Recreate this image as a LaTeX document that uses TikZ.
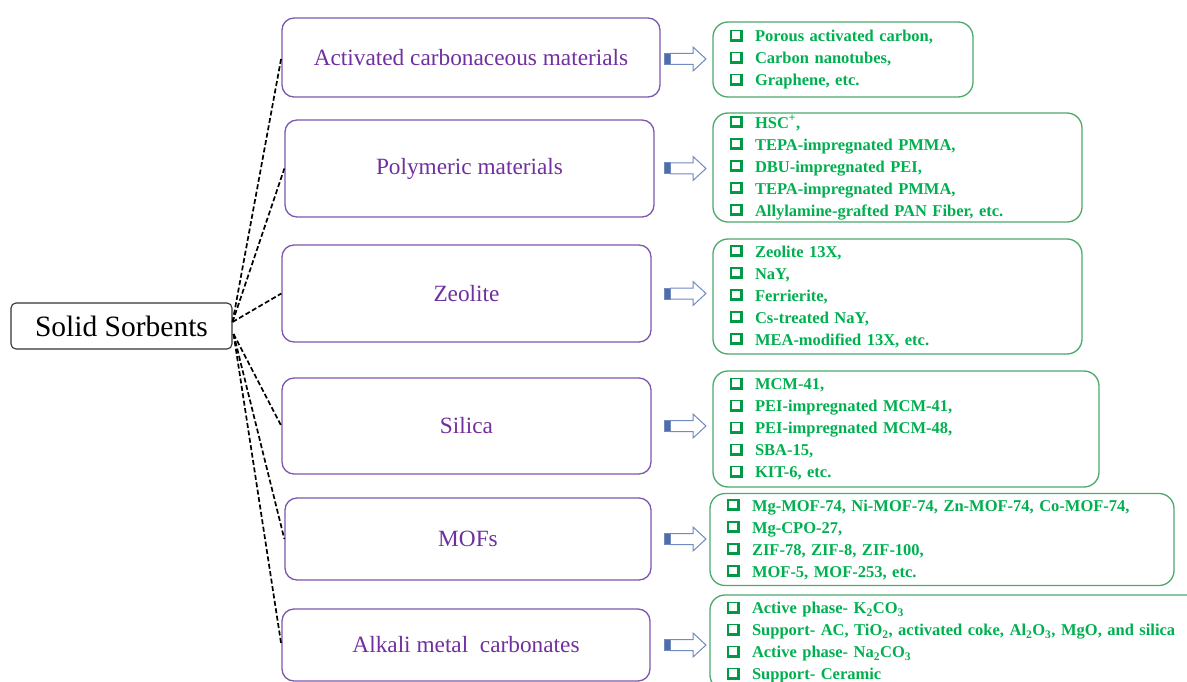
\documentclass[tikz,border=0pt]{standalone}
\usepackage{fontspec}
\setmainfont{Liberation Serif}
\usetikzlibrary{calc}
\definecolor{purp}{HTML}{7030A0}
\definecolor{purpline}{HTML}{7E57AE}
\definecolor{grn}{HTML}{00B050}
\definecolor{grnbox}{HTML}{009A45}
\definecolor{grnline}{HTML}{4CAA6C}
\definecolor{arrline}{HTML}{6F8BBF}
\definecolor{arrbar}{HTML}{4F6DA8}
\newcommand{\chk}{\textcolor{grnbox}{\vrule width 1.6pt height 12pt depth 0pt\vbox{\hrule height 1.6pt width 8.5pt\vskip 7.6pt\hrule height 2.8pt}\vrule width 2.8pt height 12pt depth 0pt}}
\newcommand{\itm}[1]{\makebox[22pt][l]{\hspace{-3pt}\chk}#1\par}
\tikzset{
  rootbox/.style={draw=black!80, line width=1.1pt, rounded corners=5pt, minimum width=221pt, minimum height=46pt, inner sep=0pt, font=\fontsize{29.5}{30}\selectfont},
  catbox/.style={draw=purpline, line width=1.3pt, rounded corners=12pt, inner sep=0pt, text=purp, font=\fontsize{23.3}{25}\selectfont},
  listbox/.style={draw=grnline, line width=1.3pt, rounded corners=15pt, inner xsep=20pt, inner ysep=0pt, text=grn, align=left, font=\bfseries\fontsize{16.5}{22}\selectfont},
  link/.style={draw=black, dashed, dash pattern=on 5pt off 2.5pt, line width=1.7pt},
  pics/blockarrow/.style={code={
    \fill[arrbar] (-21,-5.5) rectangle (-15,5.5);
    \draw[arrline, line width=1pt] (-21,-5.5) rectangle (-15,5.5);
    \draw[arrline, line width=1pt, line join=miter] (-15,-5.5) -- (8,-5.5) -- (8,-12) -- (21,0) -- (8,12) -- (8,5.5) -- (-15,5.5);
  }}
}
\begin{document}
\begin{tikzpicture}[x=1pt,y=-1pt]
\clip (0,0) rectangle (1187,682);
\fill[white] (0,0) rectangle (1187,682);

\node[rootbox] (sol) at (121.5,326) {Solid Sorbents};

\node[catbox, minimum width=378pt, minimum height=79pt] (c1) at (471,57.5) {Activated carbonaceous materials};
\node[catbox, minimum width=369pt, minimum height=97pt] (c2) at (469.5,168.5) {Polymeric materials};
\node[catbox, minimum width=369pt, minimum height=97pt] (c3) at (466.5,293.5) {Zeolite};
\node[catbox, minimum width=369pt, minimum height=96pt] (c4) at (466.5,426) {Silica};
\node[catbox, minimum width=366pt, minimum height=82pt] (c5) at (468,539) {MOFs};
\node[catbox, minimum width=368pt, minimum height=72pt] (c6) at (466,645) {Alkali metal\ \ carbonates};

\node[listbox, text width=220pt, minimum height=75pt] (g1) at (843,59.5) {%
\itm{Porous activated carbon,}\itm{Carbon nanotubes,}\itm{Graphene, etc.}};
\node[listbox, text width=329pt, minimum height=109pt] (g2) at (897.5,167.5) {%
\itm{HSC\textsuperscript{+},}\itm{TEPA-impregnated PMMA,}\itm{DBU-impregnated PEI,}\itm{TEPA-impregnated PMMA,}\itm{Allylamine-grafted PAN Fiber, etc.}};
\node[listbox, text width=329pt, minimum height=115pt] (g3) at (897.5,296.5) {%
\itm{Zeolite 13X,}\itm{NaY,}\itm{Ferrierite,}\itm{Cs-treated NaY,}\itm{MEA-modified 13X, etc.}};
\node[listbox, text width=346pt, minimum height=116pt] (g4) at (906,429) {%
\itm{MCM-41,}\itm{PEI-impregnated MCM-41,}\itm{PEI-impregnated MCM-48,}\itm{SBA-15,}\itm{KIT-6, etc.}};
\node[listbox, text width=424pt, minimum height=92pt] (g5) at (942,539.5) {%
\itm{Mg-MOF-74, Ni-MOF-74, Zn-MOF-74, Co-MOF-74,}\itm{Mg-CPO-27,}\itm{ZIF-78, ZIF-8, ZIF-100,}\itm{MOF-5, MOF-253, etc.}};
\node[listbox, text width=480pt, minimum height=95pt] (g6) at (970,642.5) {%
\itm{Active phase- K\textsubscript{2}CO\textsubscript{3}}\itm{Support- AC, TiO\textsubscript{2}, activated coke, Al\textsubscript{2}O\textsubscript{3}, MgO, and silica}\itm{Active phase- Na\textsubscript{2}CO\textsubscript{3}}\itm{Support- Ceramic}};

\coordinate (su) at ($(sol.east)+(0,-4)$);
\coordinate (sd) at ($(sol.east)+(1,8)$);
\draw[link] (su) -- (c1.west);
\draw[link] (su) -- (c2.west);
\draw[link] (su) -- (c3.west);
\draw[link] (sd) -- (c4.west);
\draw[link] (sd) -- (c5.west);
\draw[link] (sd) -- (c6.west);

\coordinate (ax) at (685,0);
\pic at ($(ax |- c1)+(0,1.5)$) {blockarrow};
\pic at (ax |- c2) {blockarrow};
\pic at (ax |- c3) {blockarrow};
\pic at (ax |- c4) {blockarrow};
\pic at (ax |- c5) {blockarrow};
\pic at (ax |- c6) {blockarrow};
\end{tikzpicture}
\end{document}
